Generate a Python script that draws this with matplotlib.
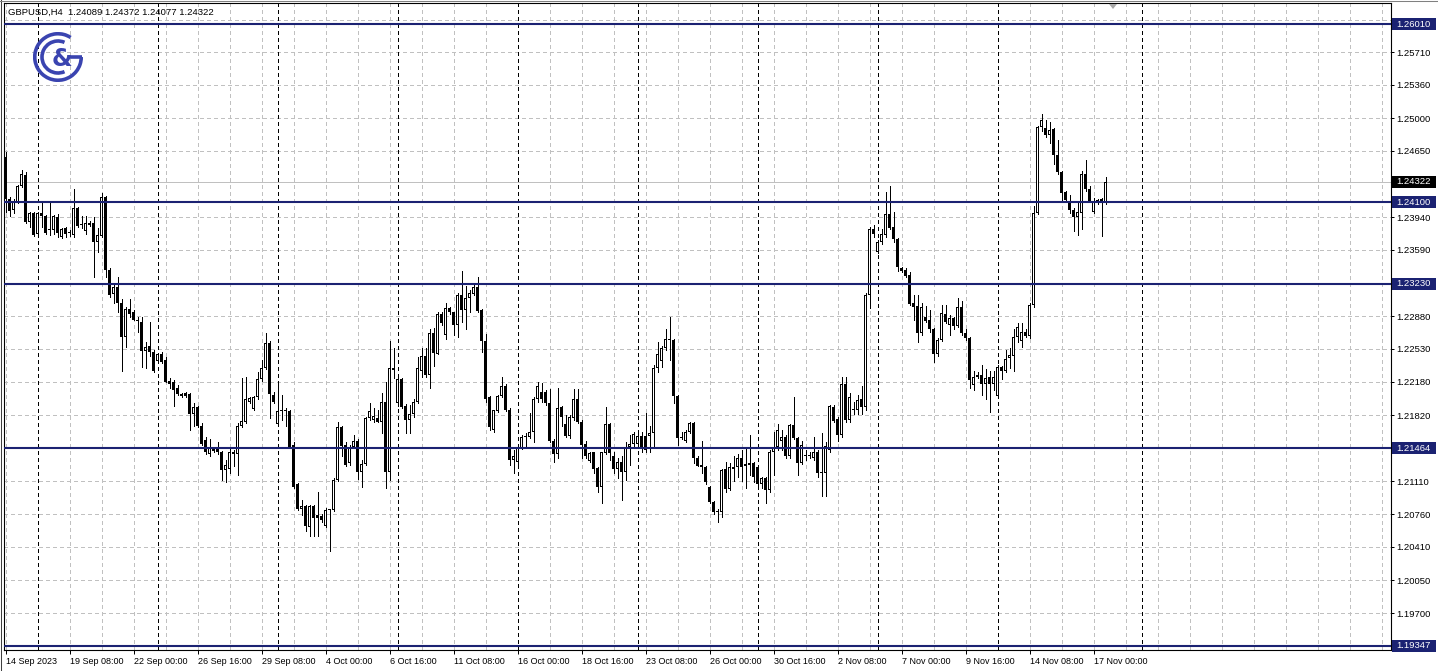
import matplotlib
matplotlib.use("Agg")
import matplotlib.pyplot as plt
from matplotlib.patches import Arc, Polygon, Rectangle
from matplotlib.transforms import IdentityTransform
from matplotlib.lines import Line2D

plt.rcParams['font.family'] = ['Liberation Sans', 'DejaVu Sans']

# ---------------- data (GBPUSD H4, 14 Sep 2023 16:00 .. 17 Nov 2023 12:00) ----------------
symbol = "GBPUSD,H4"

open_ = [1.2459,1.2413,1.2402,1.2410,1.2427,1.2439,1.2389,1.2399,1.2376,1.2399,
1.2395,1.2380,1.2380,1.2394,1.2373,1.2382,1.2377,1.2375,1.2404,1.2386,
1.2379,1.2388,1.2388,1.2367,1.2374,1.2416,1.2337,1.2312,1.2319,1.2302,
1.2266,1.2296,1.2292,1.2284,1.2282,1.2251,1.2256,1.2250,1.2240,1.2248,
1.2241,1.2219,1.2217,1.2211,1.2202,1.2206,1.2205,1.2183,1.2191,1.2170,
1.2155,1.2140,1.2144,1.2147,1.2143,1.2123,1.2124,1.2143,1.2140,1.2170,
1.2175,1.2196,1.2189,1.2201,1.2221,1.2233,1.2259,1.2204,1.2173,1.2186,
1.2187,1.2186,1.2150,1.2108,1.2081,1.2085,1.2062,1.2085,1.2075,1.2074,
1.2063,1.2080,1.2080,1.2112,1.2169,1.2150,1.2131,1.2148,1.2154,1.2121,
1.2130,1.2179,1.2177,1.2179,1.2175,1.2196,1.2121,1.2233,1.2195,1.2221,
1.2192,1.2177,1.2183,1.2196,1.2229,1.2245,1.2225,1.2270,1.2248,1.2290,
1.2268,1.2297,1.2292,1.2279,1.2311,1.2295,1.2308,1.2312,1.2319,1.2295,
1.2261,1.2201,1.2166,1.2186,1.2202,1.2213,1.2188,1.2134,1.2132,1.2147,
1.2159,1.2159,1.2164,1.2199,1.2207,1.2207,1.2195,1.2154,1.2140,1.2191,
1.2172,1.2160,1.2179,1.2199,1.2175,1.2151,1.2133,1.2142,1.2125,1.2105,
1.2141,1.2173,1.2138,1.2124,1.2132,1.2121,1.2148,1.2151,1.2151,1.2160,
1.2160,1.2160,1.2163,1.2233,1.2240,1.2254,1.2264,1.2263,1.2202,1.2157,
1.2154,1.2164,1.2174,1.2136,1.2129,1.2126,1.2105,1.2089,1.2079,1.2078,
1.2124,1.2103,1.2124,1.2126,1.2136,1.2127,1.2131,1.2131,1.2126,1.2108,
1.2115,1.2102,1.2142,1.2148,1.2154,1.2159,1.2138,1.2171,1.2158,1.2131,
1.2138,1.2138,1.2136,1.2143,1.2121,1.2120,1.2145,1.2191,1.2178,1.2161,
1.2215,1.2177,1.2188,1.2188,1.2199,1.2191,1.2311,1.2381,1.2357,1.2367,
1.2375,1.2397,1.2384,1.2371,1.2340,1.2338,1.2332,1.2302,1.2299,1.2270,
1.2287,1.2284,1.2274,1.2247,1.2263,1.2290,1.2279,1.2286,1.2277,1.2298,
1.2270,1.2265,1.2214,1.2223,1.2225,1.2215,1.2223,1.2215,1.2203,1.2234,
1.2229,1.2243,1.2245,1.2266,1.2261,1.2271,1.2267,1.2300,1.2399,1.2491,
1.2490,1.2482,1.2488,1.2461,1.2442,1.2421,1.2411,1.2402,1.2394,1.2399,
1.2440,1.2424,1.2400,1.2410,1.2413,1.24089]

high_ = [1.2464,1.2416,1.2413,1.2429,1.2445,1.2442,1.2400,1.2400,1.2400,1.2410,
1.2396,1.2410,1.2396,1.2397,1.2383,1.2384,1.2380,1.2424,1.2405,1.2395,
1.2395,1.2390,1.2394,1.2383,1.2420,1.2417,1.2340,1.2324,1.2330,1.2306,
1.2298,1.2306,1.2295,1.2287,1.2287,1.2260,1.2282,1.2252,1.2249,1.2250,
1.2244,1.2222,1.2220,1.2214,1.2206,1.2207,1.2206,1.2195,1.2192,1.2174,
1.2159,1.2156,1.2147,1.2153,1.2144,1.2134,1.2147,1.2145,1.2174,1.2222,
1.2223,1.2201,1.2202,1.2228,1.2241,1.2270,1.2261,1.2207,1.2217,1.2204,
1.2190,1.2187,1.2153,1.2109,1.2091,1.2086,1.2086,1.2086,1.2100,1.2076,
1.2083,1.2081,1.2115,1.2175,1.2170,1.2153,1.2150,1.2161,1.2156,1.2134,
1.2180,1.2195,1.2190,1.2188,1.2206,1.2217,1.2261,1.2254,1.2223,1.2222,
1.2194,1.2193,1.2199,1.2244,1.2254,1.2254,1.2274,1.2275,1.2292,1.2292,
1.2302,1.2298,1.2293,1.2313,1.2336,1.2320,1.2316,1.2322,1.2330,1.2296,
1.2269,1.2202,1.2188,1.2204,1.2223,1.2215,1.2190,1.2145,1.2148,1.2161,
1.2163,1.2184,1.2201,1.2217,1.2216,1.2209,1.2210,1.2156,1.2211,1.2192,
1.2182,1.2182,1.2210,1.2210,1.2177,1.2154,1.2143,1.2143,1.2126,1.2143,
1.2191,1.2174,1.2143,1.2136,1.2138,1.2153,1.2161,1.2164,1.2166,1.2164,
1.2184,1.2170,1.2236,1.2260,1.2256,1.2274,1.2287,1.2264,1.2204,1.2164,
1.2166,1.2175,1.2175,1.2138,1.2154,1.2127,1.2106,1.2090,1.2081,1.2124,
1.2132,1.2131,1.2138,1.2140,1.2145,1.2147,1.2161,1.2132,1.2127,1.2116,
1.2116,1.2145,1.2164,1.2173,1.2166,1.2161,1.2172,1.2201,1.2159,1.2154,
1.2145,1.2142,1.2159,1.2145,1.2163,1.2153,1.2193,1.2193,1.2180,1.2223,
1.2223,1.2206,1.2196,1.2204,1.2213,1.2313,1.2384,1.2386,1.2370,1.2381,
1.2421,1.2427,1.2400,1.2372,1.2341,1.2340,1.2335,1.2311,1.2311,1.2302,
1.2299,1.2295,1.2275,1.2265,1.2300,1.2300,1.2289,1.2287,1.2308,1.2304,
1.2274,1.2266,1.2229,1.2228,1.2236,1.2231,1.2229,1.2229,1.2236,1.2235,
1.2252,1.2254,1.2274,1.2281,1.2281,1.2274,1.2302,1.2406,1.2492,1.2505,
1.2498,1.2496,1.2490,1.2477,1.2443,1.2422,1.2418,1.2404,1.2410,1.2443,
1.2455,1.2427,1.2415,1.2413,1.2415,1.24372]

low_ = [1.2400,1.2395,1.2399,1.2409,1.2426,1.2388,1.2384,1.2374,1.2375,1.2384,
1.2376,1.2375,1.2376,1.2373,1.2372,1.2373,1.2374,1.2373,1.2384,1.2383,
1.2376,1.2385,1.2330,1.2357,1.2373,1.2330,1.2309,1.2302,1.2293,1.2229,
1.2255,1.2287,1.2284,1.2271,1.2234,1.2232,1.2245,1.2228,1.2238,1.2238,
1.2217,1.2211,1.2192,1.2204,1.2201,1.2201,1.2166,1.2170,1.2169,1.2150,
1.2140,1.2138,1.2142,1.2140,1.2113,1.2110,1.2120,1.2127,1.2118,1.2169,
1.2174,1.2195,1.2188,1.2199,1.2219,1.2231,1.2179,1.2195,1.2170,1.2177,
1.2170,1.2147,1.2104,1.2080,1.2075,1.2058,1.2052,1.2052,1.2052,1.2068,
1.2062,1.2036,1.2079,1.2111,1.2138,1.2127,1.2129,1.2147,1.2114,1.2105,
1.2129,1.2177,1.2175,1.2175,1.2163,1.2104,1.2113,1.2222,1.2192,1.2190,
1.2163,1.2163,1.2180,1.2195,1.2223,1.2223,1.2211,1.2235,1.2247,1.2279,
1.2264,1.2290,1.2268,1.2266,1.2282,1.2274,1.2293,1.2311,1.2292,1.2250,
1.2196,1.2166,1.2164,1.2185,1.2201,1.2186,1.2129,1.2120,1.2126,1.2146,
1.2148,1.2158,1.2153,1.2196,1.2196,1.2193,1.2153,1.2132,1.2136,1.2170,
1.2159,1.2158,1.2177,1.2174,1.2136,1.2136,1.2132,1.2120,1.2100,1.2088,
1.2140,1.2134,1.2120,1.2115,1.2091,1.2113,1.2129,1.2148,1.2147,1.2142,
1.2142,1.2142,1.2148,1.2228,1.2234,1.2252,1.2241,1.2195,1.2150,1.2156,
1.2153,1.2163,1.2131,1.2127,1.2120,1.2108,1.2088,1.2076,1.2068,1.2073,
1.2100,1.2102,1.2111,1.2116,1.2111,1.2104,1.2118,1.2110,1.2105,1.2104,
1.2088,1.2100,1.2118,1.2145,1.2145,1.2136,1.2136,1.2156,1.2118,1.2130,
1.2134,1.2136,1.2134,1.2116,1.2095,1.2095,1.2143,1.2175,1.2154,1.2159,
1.2175,1.2175,1.2183,1.2183,1.2183,1.2188,1.2297,1.2373,1.2356,1.2365,
1.2373,1.2381,1.2367,1.2336,1.2335,1.2330,1.2300,1.2284,1.2260,1.2268,
1.2282,1.2271,1.2239,1.2245,1.2261,1.2281,1.2268,1.2274,1.2276,1.2268,
1.2263,1.2211,1.2209,1.2222,1.2204,1.2199,1.2185,1.2209,1.2201,1.2221,
1.2228,1.2233,1.2229,1.2260,1.2255,1.2266,1.2265,1.2298,1.2397,1.2486,
1.2480,1.2474,1.2451,1.2440,1.2411,1.2410,1.2399,1.2379,1.2375,1.2381,
1.2422,1.2410,1.2399,1.2408,1.2374,1.24077]

close_ = [1.2413,1.2401,1.2410,1.2427,1.2440,1.2389,1.2399,1.2375,1.2399,1.2395,
1.2377,1.2381,1.2395,1.2377,1.2381,1.2376,1.2378,1.2404,1.2385,1.2387,
1.2388,1.2386,1.2367,1.2375,1.2416,1.2337,1.2311,1.2319,1.2302,1.2266,
1.2296,1.2290,1.2284,1.2283,1.2251,1.2255,1.2250,1.2229,1.2248,1.2239,
1.2218,1.2215,1.2209,1.2205,1.2205,1.2202,1.2183,1.2191,1.2170,1.2151,
1.2142,1.2147,1.2146,1.2143,1.2123,1.2129,1.2143,1.2140,1.2170,1.2176,
1.2199,1.2200,1.2201,1.2221,1.2233,1.2259,1.2205,1.2196,1.2186,1.2187,
1.2186,1.2148,1.2105,1.2081,1.2085,1.2063,1.2085,1.2072,1.2072,1.2070,
1.2080,1.2081,1.2113,1.2169,1.2149,1.2129,1.2148,1.2154,1.2121,1.2130,
1.2179,1.2186,1.2181,1.2175,1.2196,1.2121,1.2233,1.2230,1.2221,1.2191,
1.2177,1.2183,1.2196,1.2233,1.2245,1.2225,1.2270,1.2249,1.2290,1.2281,
1.2297,1.2292,1.2279,1.2311,1.2295,1.2308,1.2313,1.2319,1.2294,1.2261,
1.2199,1.2169,1.2187,1.2202,1.2213,1.2188,1.2134,1.2138,1.2147,1.2159,
1.2160,1.2164,1.2199,1.2213,1.2199,1.2195,1.2154,1.2140,1.2190,1.2180,
1.2160,1.2180,1.2199,1.2175,1.2150,1.2138,1.2141,1.2124,1.2105,1.2142,
1.2173,1.2141,1.2124,1.2132,1.2121,1.2148,1.2151,1.2162,1.2160,1.2147,
1.2145,1.2163,1.2233,1.2247,1.2254,1.2264,1.2262,1.2202,1.2157,1.2158,
1.2164,1.2174,1.2136,1.2128,1.2126,1.2110,1.2089,1.2078,1.2078,1.2123,
1.2103,1.2126,1.2126,1.2136,1.2126,1.2130,1.2129,1.2116,1.2108,1.2115,
1.2102,1.2142,1.2148,1.2166,1.2159,1.2138,1.2171,1.2158,1.2131,1.2150,
1.2139,1.2139,1.2143,1.2120,1.2120,1.2149,1.2192,1.2176,1.2161,1.2215,
1.2177,1.2201,1.2189,1.2198,1.2191,1.2311,1.2381,1.2376,1.2368,1.2376,
1.2397,1.2383,1.2371,1.2341,1.2336,1.2331,1.2301,1.2298,1.2270,1.2298,
1.2283,1.2274,1.2247,1.2263,1.2291,1.2282,1.2286,1.2277,1.2298,1.2270,
1.2265,1.2220,1.2223,1.2225,1.2215,1.2222,1.2215,1.2223,1.2234,1.2229,
1.2242,1.2246,1.2266,1.2276,1.2271,1.2267,1.2300,1.2399,1.2491,1.2498,
1.2482,1.2487,1.2461,1.2442,1.2420,1.2412,1.2402,1.2394,1.2400,1.2440,
1.2424,1.2411,1.2411,1.2412,1.2410,1.24322]

x_tick_labels = ["14 Sep 2023", "19 Sep 08:00", "22 Sep 00:00", "26 Sep 16:00",
                 "29 Sep 08:00", "4 Oct 00:00", "6 Oct 16:00", "11 Oct 08:00",
                 "16 Oct 00:00", "18 Oct 16:00", "23 Oct 08:00", "26 Oct 00:00",
                 "30 Oct 16:00", "2 Nov 08:00", "7 Nov 00:00", "9 Nov 16:00",
                 "14 Nov 08:00", "17 Nov 00:00"]
bars_per_label = 16
week_start_bars = [8, 38, 68, 98, 128, 158, 188, 218, 248, 284]

y_tick_values = [1.25710, 1.25360, 1.25000, 1.24650, 1.23940, 1.23590, 1.22880,
                 1.22530, 1.22180, 1.21820, 1.21110, 1.20760, 1.20410, 1.20050, 1.19700]
y_tick_labels = ["%.5f" % v for v in y_tick_values]
extra_grid = [1.26050]
level_values = [1.26010, 1.24100, 1.23230, 1.21464, 1.19347]
bid = 1.24322

# ---------------- styling ----------------
NAVY = '#1B2272'
GRID = '#C0C0C0'
LOGO = '#3A44B0'
W, H, DPI = 1438, 671, 100
YMIN, YMAX = 1.19304, 1.26235
PLOT_H = 647

fig = plt.figure(figsize=(W / DPI, H / DPI), dpi=DPI, facecolor='white')
ax = fig.add_axes([4 / W, 21 / H, 1387 / W, PLOT_H / H])
ax.set_facecolor('white')
ax.set_xlim(-0.375, 346.375)
ax.set_ylim(YMIN, YMAX)
px = (YMAX - YMIN) / PLOT_H   # price span of one pixel

dash = (0, (3, 3))
for gx in range(0, 347, 8):
    ax.axvline(gx, color=GRID, lw=0.72, ls=dash, zorder=1, antialiased=False)
for gy in y_tick_values + extra_grid:
    ax.axhline(gy, color=GRID, lw=0.72, ls=dash, zorder=1, antialiased=False)
for sx in week_start_bars:
    ax.axvline(sx, color='black', lw=0.72, ls=dash, zorder=2, antialiased=False)
ax.axhline(bid, color=GRID, lw=0.72, zorder=2, antialiased=False)

n = len(close_)
xs = list(range(n))
ax.vlines(xs, low_, high_, color='black', lw=0.72, zorder=3, antialiased=False)
bottoms = [min(o, c) for o, c in zip(open_, close_)]
heights = [max(abs(c - o), px) for o, c in zip(open_, close_)]
ax.bar(xs, heights, width=0.75, bottom=bottoms, color='black', linewidth=0,
       zorder=4, antialiased=False)
# hollow (bullish) candles: white interior
wx, wb, wh = [], [], []
for i, (o, c) in enumerate(zip(open_, close_)):
    if c > o and (c - o) > 2.2 * px:
        wx.append(i)
        wb.append(o + px)
        wh.append(c - o - 2 * px)
ax.bar(wx, wh, width=0.25, bottom=wb, color='white', linewidth=0, zorder=4.5,
       antialiased=False)

for v in level_values:
    ax.axhline(v, color=NAVY, lw=1.5, zorder=5)

for s in ax.spines.values():
    s.set_linewidth(0.8)
    s.set_color('black')

ax.yaxis.tick_right()
ax.set_yticks(y_tick_values)
ax.set_yticklabels(y_tick_labels)
ax.tick_params(axis='y', direction='out', length=2.5, width=0.72, pad=1.2, labelsize=6.8)
ax.set_xticks([k * bars_per_label for k in range(len(x_tick_labels))])
ax.set_xticklabels(x_tick_labels)
ax.tick_params(axis='x', direction='out', length=3, width=0.72, pad=2, labelsize=6.5)
for lbl in ax.get_xticklabels():
    lbl.set_ha('left')

ident = IdentityTransform()
for v in level_values:
    yd = ax.transData.transform((0, v))[1]
    fig.add_artist(Rectangle((1392, yd - 6), 44, 12, transform=ident,
                             facecolor=NAVY, edgecolor='none', zorder=6))
    fig.text(1396, yd, "%.5f" % v, transform=ident, color='white', fontsize=6.8,
             va='center', ha='left', zorder=7)
yd = ax.transData.transform((0, bid))[1]
fig.add_artist(Rectangle((1392, yd - 6), 44, 12, transform=ident,
                         facecolor='black', edgecolor='none', zorder=6))
fig.text(1396, yd, "%.5f" % bid, transform=ident, color='white', fontsize=6.8,
         va='center', ha='left', zorder=7)

header = "%s  %.5f %.5f %.5f %.5f" % (symbol, open_[-1], high_[-1], low_[-1], close_[-1])
fig.text(8, H - 12, header, transform=ident, fontsize=6.8, va='center', ha='left', zorder=7)

# chart-shift marker
fig.add_artist(Polygon([[1109, H - 4], [1117, H - 4], [1113, H - 9]], closed=True,
                       transform=ident, facecolor='#A8A8A8', edgecolor='none', zorder=6))
# outer window edge
fig.add_artist(Line2D([1, 1], [0, H], transform=ident, color='#404040', lw=0.75))
fig.add_artist(Line2D([0, W], [H - 1, H - 1], transform=ident, color='#808080', lw=0.75))

# logo
lax = fig.add_axes([33 / W, (H - 82) / H, 50 / W, 50 / H])
lax.set_xlim(-1, 1)
lax.set_ylim(-1, 1)
lax.axis('off')
lax.add_patch(Arc((0, 0), 1.86, 1.86, theta1=57, theta2=360, color=LOGO, lw=2.6))
lax.add_patch(Arc((0, 0), 1.28, 1.28, theta1=66, theta2=294, color=LOGO, lw=2.6))
lax.plot([0.42, 0.95], [0, 0], color=LOGO, lw=2.6, solid_capstyle='butt')
lax.text(0.14, -0.08, "&", color=LOGO, fontsize=17, fontweight='bold',
         ha='center', va='center', family='DejaVu Sans')

fig.savefig("out.png", dpi=DPI, facecolor='white')
